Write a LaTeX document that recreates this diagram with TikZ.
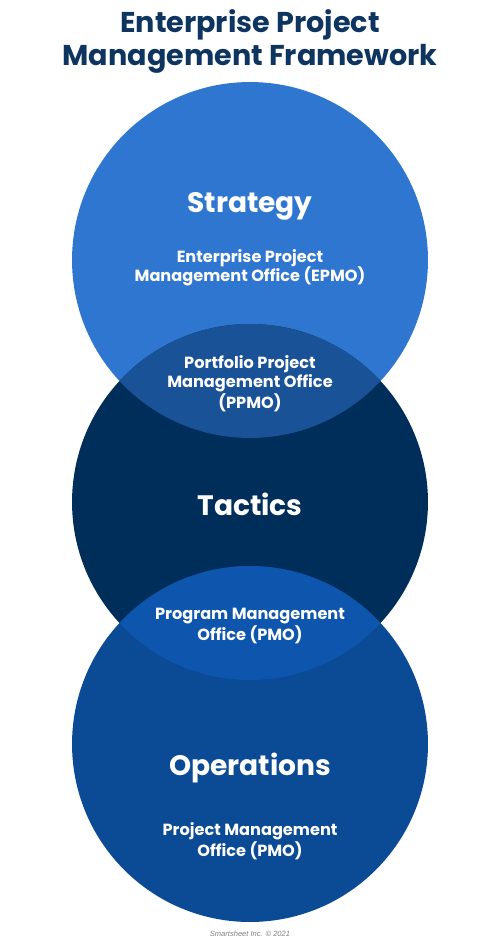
\documentclass[tikz,border=0pt]{standalone}
\usepackage{fontspec}
\setmainfont{Poppins}
\newfontfamily\notefont{Liberation Sans}
\usepackage{tikz}

\definecolor{titleblue}{RGB}{14,52,96}
\definecolor{stratblue}{RGB}{46,118,208}
\definecolor{tactblue}{RGB}{0,46,90}
\definecolor{operblue}{RGB}{11,74,148}
\definecolor{upperlens}{RGB}{26,82,152}
\definecolor{lowerlens}{RGB}{13,85,173}

\begin{document}
\begin{tikzpicture}[x=0.02cm, y=-0.02cm,
  every node/.style={white, align=center},
  heading/.style={font=\fontsize{16}{19}\selectfont\bfseries},
  office/.style={font=\fontsize{9.2}{10.9}\selectfont\bfseries}]
\useasboundingbox (0,0) rectangle (500,943);

% the three circles
\fill[stratblue] (250,260) circle (3.56cm);
\fill[tactblue] (250,502) circle (3.56cm);
\fill[operblue] (250,744) circle (3.56cm);

% overlaps
\begin{scope}
\clip (250,260) circle (3.56cm);
\fill[upperlens] (250,502) circle (3.56cm);
\end{scope}
\begin{scope}
\clip (250,502) circle (3.56cm);
\fill[lowerlens] (250,744) circle (3.56cm);
\end{scope}

\node[titleblue, font=\fontsize{16.3}{18.8}\selectfont\bfseries] (title) at (250,41)
  {Enterprise Project\\Management Framework};

\node[heading] (strategy) at (250,206) {Strategy};
\node[office] (epmo) at (250,268) {Enterprise Project\\Management Office (EPMO)};
\node[office] (ppmo) at (250,384) {Portfolio Project\\Management Office\\(PPMO)};
\node[heading] (tactics) at (250,504) {Tactics};
\node[office] (pgmo) at (250,626) {Program Management\\Office (PMO)};
\node[heading] (operations) at (250,768) {Operations};
\node[office] (pmo) at (250,841) {Project Management\\Office (PMO)};

\node[gray, font=\notefont\itshape\fontsize{4.3}{5}\selectfont] (credit) at (250,934) {Smartsheet Inc. © 2021};
\end{tikzpicture}
\end{document}
